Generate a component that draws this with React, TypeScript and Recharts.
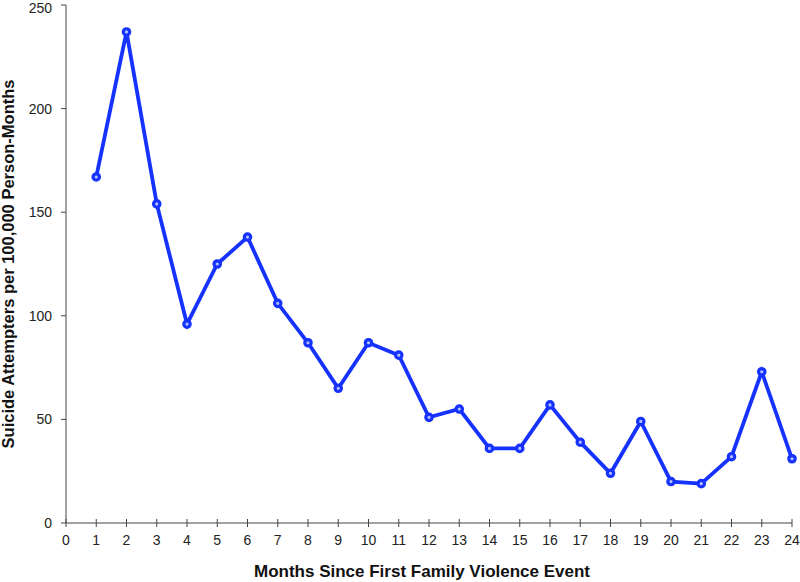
import React from "react"
import { LineChart, Line, XAxis, YAxis } from "recharts"

const months = [1, 2, 3, 4, 5, 6, 7, 8, 9, 10, 11, 12, 13, 14, 15, 16, 17, 18, 19, 20, 21, 22, 23, 24]
const rates = [167, 237, 154, 96, 125, 138, 106, 87, 65, 87, 81, 51, 55, 36, 36, 57, 39, 24, 49, 20, 19, 32, 73, 31]
const xTicks = [0, 1, 2, 3, 4, 5, 6, 7, 8, 9, 10, 11, 12, 13, 14, 15, 16, 17, 18, 19, 20, 21, 22, 23, 24]
const yTicks = [0, 50, 100, 150, 200, 250]

const data = months.map((m, i) => ({ month: m, rate: rates[i] }))

const BLUE = "#1532ff"
const AXIS = "#444"
const FONT = "'Liberation Sans', Arial, Helvetica, sans-serif"

const TICK_SIZE = 4
const TICK_MARGIN = 8

function XTick(props: any) {
  const { x, y, payload } = props
  const axisY = y - TICK_SIZE - TICK_MARGIN
  return (
    <g>
      <line x1={x} x2={x} y1={axisY - TICK_SIZE} y2={axisY} stroke={AXIS} strokeWidth={1} />
      <text x={x} y={y} dy="0.71em" textAnchor="middle" fontSize={14} fill="#222" fontFamily={FONT}>
        {payload.value}
      </text>
    </g>
  )
}

export default function App() {
  return (
    <div style={{ position: "absolute", left: 0, top: 0, background: "#fff" }}>
      <LineChart width={800} height={582} data={data} margin={{ top: 5, right: 8, left: 0, bottom: 0 }}>
        <XAxis
          dataKey="month"
          type="number"
          domain={[0, 24]}
          ticks={xTicks}
          interval={0}
          height={59}
          stroke={AXIS}
          tickSize={TICK_SIZE}
          tickMargin={TICK_MARGIN}
          tick={<XTick />}
          label={{
            content: ({ viewBox }: any) => (
              <text
                x={viewBox.x + viewBox.width / 2 - 7}
                y={577}
                textAnchor="middle"
                fontSize={17}
                fontWeight="bold"
                fill="#111"
                fontFamily={FONT}
              >
                Months Since First Family Violence Event
              </text>
            ),
          }}
        />
        <YAxis
          type="number"
          domain={[0, 250]}
          ticks={yTicks}
          width={66}
          stroke={AXIS}
          tickSize={5}
          tickMargin={9}
          tick={{ fontSize: 14, fill: "#222", fontFamily: FONT }}
          label={{
            content: ({ viewBox }: any) => {
              const cy = viewBox.y + viewBox.height / 2
              return (
                <text
                  x={14}
                  y={cy}
                  transform={`rotate(-90 14 ${cy})`}
                  textAnchor="middle"
                  fontSize={16.5}
                  fontWeight="bold"
                  fill="#111"
                  fontFamily={FONT}
                >
                  Suicide Attempters per 100,000 Person-Months
                </text>
              )
            },
          }}
        />
        <Line
          type="linear"
          dataKey="rate"
          stroke={BLUE}
          strokeWidth={3.8}
          dot={{ r: 3.2, fill: "#b4c0ff", stroke: BLUE, strokeWidth: 3.2 }}
          isAnimationActive={false}
        />
      </LineChart>
    </div>
  )
}
